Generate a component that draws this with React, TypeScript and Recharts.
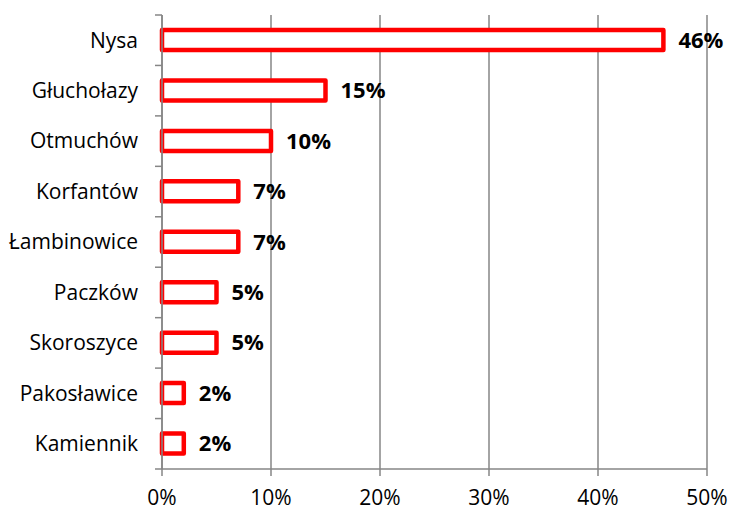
import { BarChart, Bar, XAxis, YAxis, CartesianGrid, LabelList } from 'recharts';

const towns = ['Nysa', 'Głuchołazy', 'Otmuchów', 'Korfantów', 'Łambinowice', 'Paczków', 'Skoroszyce', 'Pakosławice', 'Kamiennik'];
const shares = [46, 15, 10, 7, 7, 5, 5, 2, 2];
const xTicks = [0, 10, 20, 30, 40, 50];

const data = towns.map((town, i) => ({ town, share: shares[i] }));

const AXIS = '#868686';
const FONT = '"Open Sans", Lato, sans-serif';
const BAND = (469 - 15) / towns.length;

// category ticks sit on band boundaries, like the original spreadsheet chart
function TownTick(props: any) {
  const { x, y, payload, index } = props;
  return (
    <g>
      <line x1={x + 17} x2={x + 24} y1={y - BAND / 2} y2={y - BAND / 2} stroke={AXIS} strokeWidth={1.5} />
      {index === towns.length - 1 && (
        <line x1={x + 17} x2={x + 24} y1={y + BAND / 2} y2={y + BAND / 2} stroke={AXIS} strokeWidth={1.5} />
      )}
      <text x={x} y={y} dy="0.35em" textAnchor="end" fontSize={21} fontFamily={FONT} fill="#000">
        {payload.value}
      </text>
    </g>
  );
}

export default function App() {
  return (
    <div style={{ position: 'fixed', left: 0, top: 0, width: 731, height: 510, background: '#fff' }}>
      <BarChart
        width={731}
        height={510}
        data={data}
        layout="vertical"
        margin={{ top: 15, right: 24, left: 0, bottom: 0 }}
        barSize={20}
      >
        <CartesianGrid horizontal={false} stroke={AXIS} strokeWidth={1.5} />
        <XAxis
          type="number"
          domain={[0, 50]}
          ticks={xTicks}
          tickFormatter={(v) => `${v}%`}
          height={41}
          stroke={AXIS}
          strokeWidth={1.5}
          tickSize={7}
          tickMargin={14}
          tick={{ fill: '#000', fontSize: 21, fontFamily: FONT }}
          interval={0}
        />
        <YAxis
          type="category"
          dataKey="town"
          width={162}
          stroke={AXIS}
          strokeWidth={1.5}
          tickLine={false}
          tickSize={7}
          tickMargin={17}
          tick={<TownTick />}
          interval={0}
        />
        <Bar dataKey="share" fill="#fff" stroke="#ff0000" strokeWidth={4.5} strokeLinejoin="round" isAnimationActive={false}>
          <LabelList
            dataKey="share"
            position="right"
            offset={15}
            formatter={(v: any) => `${v}%`}
            style={{ fontWeight: 'bold', fontSize: 22, fontFamily: FONT, fill: '#000' }}
          />
        </Bar>
      </BarChart>
    </div>
  );
}
